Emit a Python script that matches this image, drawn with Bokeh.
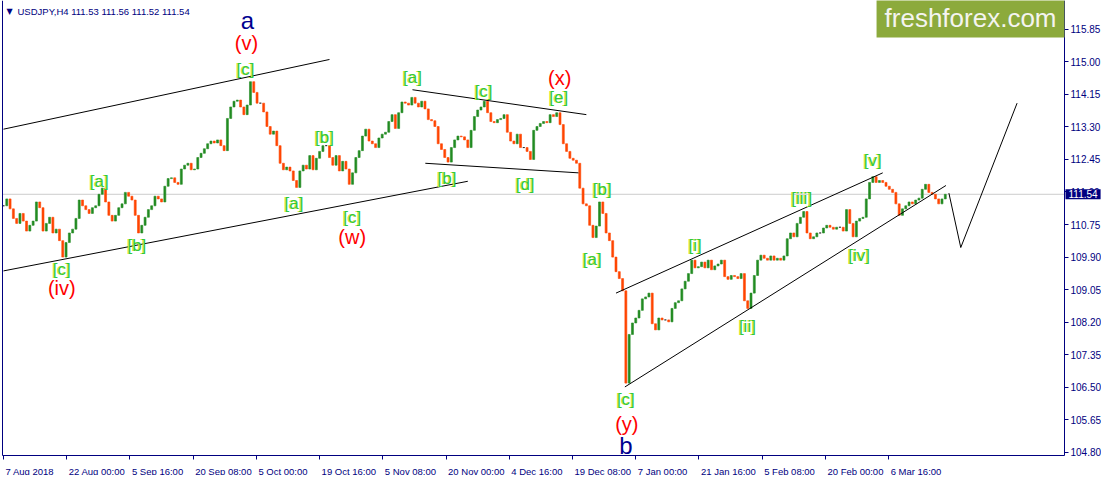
import numpy as np
from bokeh.plotting import figure
from bokeh.models import (Range1d, FixedTicker, Label, PrintfTickFormatter,
                          ColumnDataSource, LinearAxis)
from bokeh.embed import file_html
from bokeh.resources import INLINE
from bokeh.core.properties import value

# ---------------- data ----------------
symbol = "USDJPY,H4"
last_ohlc = [111.53, 111.56, 111.52, 111.54]
bar_step = 10 / 3  # H4 bars represented by each sample

close = [
    111.24, 111.42, 111.16, 110.91, 110.78, 111.04, 110.84, 110.58, 110.73, 110.84,
    111.34, 111.19, 110.58, 110.78, 110.94, 110.53, 110.63, 110.33, 109.90, 110.28,
    110.53, 110.63, 110.91, 111.39, 111.24, 111.14, 111.04, 111.19, 111.24, 111.54,
    111.70, 111.34, 110.99, 110.84, 110.99, 111.19, 111.29, 111.59, 111.49, 111.39,
    110.99, 110.53, 110.73, 110.94, 111.14, 111.24, 111.49, 111.42, 111.34, 111.75,
    111.95, 111.97, 111.85, 111.80, 112.20, 112.30, 112.35, 112.18, 112.20, 112.50,
    112.61, 112.73, 112.86, 112.93, 112.88, 112.96, 112.81, 112.68, 113.52, 113.82,
    113.97, 114.00, 113.82, 113.62, 113.87, 114.48, 114.20, 113.92, 113.92, 113.69,
    113.31, 113.11, 113.19, 112.81, 112.35, 112.18, 112.25, 112.15, 111.90, 111.72,
    112.15, 112.30, 112.20, 112.55, 112.18, 112.48, 112.66, 112.81, 112.81, 112.50,
    112.30, 112.55, 112.15, 112.40, 112.20, 111.80, 112.10, 112.50, 112.68, 113.06,
    113.24, 112.93, 112.86, 112.76, 113.01, 113.11, 113.16, 113.44, 113.62, 113.26,
    113.67, 113.95, 113.92, 113.87, 114.07, 113.92, 113.82, 113.97, 113.77, 113.49,
    113.46, 113.31, 112.86, 112.71, 112.50, 112.38, 112.76, 112.96, 113.06, 113.04,
    112.96, 112.76, 113.21, 113.57, 113.74, 113.82, 113.97, 113.67, 113.44, 113.41,
    113.49, 113.52, 113.62, 113.16, 112.93, 112.86, 113.11, 112.76, 112.76, 112.66,
    112.45, 113.21, 113.31, 113.39, 113.44, 113.41, 113.62, 113.57, 113.67, 113.36,
    112.86, 112.66, 112.48, 112.43, 112.35, 111.70, 111.29, 111.24, 110.73, 110.41,
    110.71, 111.34, 111.04, 110.53, 110.33, 109.90, 109.52, 109.34, 109.02, 106.61,
    107.88, 108.18, 108.31, 108.51, 108.81, 108.86, 108.96, 108.16, 108.00, 108.31,
    108.26, 108.26, 108.21, 108.56, 108.71, 108.76, 109.07, 109.27, 109.47, 109.82,
    109.62, 109.65, 109.77, 109.62, 109.82, 109.57, 109.67, 109.72, 109.82, 109.39,
    109.32, 109.42, 109.39, 109.34, 109.47, 108.76, 108.56, 108.96, 109.42, 109.82,
    109.95, 109.87, 109.82, 109.93, 109.82, 109.87, 109.82, 109.93, 110.38, 110.53,
    110.43, 110.78, 110.94, 111.09, 110.53, 110.38, 110.43, 110.53, 110.53, 110.66,
    110.73, 110.68, 110.63, 110.68, 110.68, 110.58, 111.14, 110.78, 110.43, 110.84,
    110.91, 110.94, 111.42, 111.85, 112.00, 111.85, 111.90, 111.85, 111.75, 111.67,
    111.59, 111.29, 110.99, 111.16, 111.24, 111.34, 111.29, 111.39, 111.44, 111.67,
    111.80, 111.59, 111.54, 111.42, 111.29, 111.42, 111.54,
]

date_ticks = [0, 64, 128, 192, 256, 320, 384, 448, 512, 576, 640, 704, 768, 832, 896]
date_labels = ["7 Aug 2018", "22 Aug 00:00", "5 Sep 16:00", "20 Sep 08:00", "5 Oct 00:00",
               "19 Oct 16:00", "5 Nov 08:00", "20 Nov 00:00", "4 Dec 16:00", "19 Dec 08:00",
               "7 Jan 00:00", "21 Jan 16:00", "5 Feb 08:00", "20 Feb 00:00", "6 Mar 16:00"]
price_ticks = [104.80, 105.65, 106.50, 107.35, 108.20, 109.05, 109.90, 110.75,
               111.60, 112.45, 113.30, 114.15, 115.00, 115.85]

# wave labels (bar position, price, text)
green_x = [245, 97, 135, 59, 294, 325, 353, 414, 449, 486, 528, 562, 606, 596, 630, 700, 753, 808, 866, 880]
green_y = [114.80, 111.87, 110.20, 109.57, 111.29, 113.01, 110.94, 114.60, 111.95, 114.22,
           111.80, 114.07, 111.67, 109.85, 106.18, 110.20, 108.10, 111.42, 109.95, 112.43]
green_t = ["[c]", "[a]", "[b]", "[c]", "[a]", "[b]", "[c]", "[a]", "[b]", "[c]",
           "[d]", "[e]", "[b]", "[a]", "[c]", "[i]", "[ii]", "[iii]", "[iv]", "[v]"]
red_x = [246, 59, 353, 563, 631]
red_y = [115.49, 109.09, 110.43, 114.58, 105.55]
red_t = ["(v)", "(iv)", "(w)", "(x)", "(y)"]
blue_x = [247, 630]
blue_y = [116.07, 104.99]
blue_t = ["a", "b"]

# trend lines (bar position pairs, price pairs)
trend_x = [[0, 330], [0, 470], [414, 590], [427, 582], [620, 890], [629, 954]]
trend_y = [[113.24, 115.06], [109.54, 111.88], [114.27, 113.62], [112.35, 112.10],
           [108.96, 112.10], [106.51, 111.77]]
forecast_x = [957, 969, 1026]
forecast_y = [111.57, 110.15, 113.92]

# chart window (bars / prices)
chart_x = (-1, 1074)
chart_y = (104.72, 116.60)

# ---------------- layout ----------------
W, H = 1101, 475
NAVY = "#000080"
px_left, px_right = 2, 1064          # chart frame in figure pixels
px_bottom = 455                      # chart bottom, pixels from top
sx = (px_right - px_left) / (chart_x[1] - chart_x[0])
sy = px_bottom / (chart_y[1] - chart_y[0])
xr = Range1d(chart_x[0] - px_left / sx, chart_x[0] + (W - px_left) / sx)
yr = Range1d(chart_y[1] - H / sy, chart_y[1])

p = figure(width=W, height=H, output_backend="svg", toolbar_location=None,
           x_range=xr, y_range=yr, x_axis_location=None, y_axis_location=None,
           min_border=0, min_border_left=0, min_border_right=0,
           min_border_top=0, min_border_bottom=0)
p.grid.visible = False
p.outline_line_color = None
p.background_fill_color = "white"
p.border_fill_color = "white"

# price axis on the right edge of the chart
ya = LinearAxis(fixed_location=chart_x[1], bounds=chart_y,
                ticker=FixedTicker(ticks=price_ticks),
                formatter=PrintfTickFormatter(format="%.2f"))
ya.major_label_text_font = "Liberation Sans"
ya.major_label_text_font_size = "10px"
ya.major_label_text_color = NAVY
ya.axis_line_color = NAVY
ya.major_tick_line_color = NAVY
ya.major_tick_out = 4
ya.major_tick_in = 0
ya.minor_tick_line_color = None
ya.major_label_standoff = 2
p.add_layout(ya, "right")

# left border
la = LinearAxis(fixed_location=chart_x[0], bounds=chart_y, ticker=FixedTicker(ticks=[]))
la.axis_line_color = NAVY
la.major_tick_line_color = None
la.minor_tick_line_color = None
la.major_label_text_font_size = "0px"
p.add_layout(la, "left")

# time axis: ticks
xa = LinearAxis(fixed_location=chart_y[0], bounds=chart_x, ticker=FixedTicker(ticks=date_ticks))
xa.major_label_overrides = {t: "" for t in date_ticks}
xa.major_label_text_font_size = "0px"
xa.axis_line_color = NAVY
xa.major_tick_line_color = NAVY
xa.major_tick_out = 4
xa.major_tick_in = 0
xa.minor_tick_line_color = None
p.add_layout(xa, "below")

# time axis: labels start just right of each tick (MT4 style)
em = {" ": .278, ":": .278, "A": .667, "u": .556, "g": .556, "S": .667, "e": .556,
      "p": .556, "O": .778, "c": .5, "t": .278, "N": .722, "o": .556, "v": .5,
      "D": .722, "J": .5, "a": .556, "n": .556, "F": .611, "b": .556, "M": .833, "r": .333}
fs = 9.5
shifted = [round(t + (2 + fs * sum(em.get(ch, .556) for ch in lab) / 2) / sx, 2)
           for t, lab in zip(date_ticks, date_labels)]
xl = LinearAxis(fixed_location=chart_y[0], ticker=FixedTicker(ticks=shifted))
xl.major_label_overrides = {s: lab for s, lab in zip(shifted, date_labels)}
xl.major_label_text_font = "Liberation Sans"
xl.major_label_text_font_size = f"{fs}px"
xl.major_label_text_color = NAVY
xl.axis_line_color = None
xl.major_tick_line_color = None
xl.minor_tick_line_color = None
xl.major_label_standoff = 4
p.add_layout(xl, "below")

# current price line
p.line(list(chart_x), [last_ohlc[3]] * 2, line_color="#CCCCCC", line_width=1, level="underlay")

# candles
c = np.array(close)
o = np.concatenate([[c[0]], c[:-1]])
xs = np.arange(len(c)) * bar_step
cols = np.where(c > o, "#228B22", np.where(c < o, "#FF4500", "#000000"))
src = ColumnDataSource(dict(x=xs, top=np.maximum(o, c), bottom=np.minimum(o, c), color=cols))
p.vbar(x="x", width=2.0, top="top", bottom="bottom", fill_color="color",
       line_color="color", line_width=0.6, source=src)

# trend lines
for tx, ty in zip(trend_x, trend_y):
    p.line(tx, ty, line_color="black", line_width=1)
p.line(forecast_x, forecast_y, line_color="black", line_width=1)

# wave labels
p.text(green_x, green_y, text=green_t, text_align="center", text_baseline="middle",
       text_font=value("Liberation Sans"), text_font_size="17px", text_color="#D8E830",
       x_offset=-1)
p.text(green_x, green_y, text=green_t, text_align="center", text_baseline="middle",
       text_font=value("Liberation Sans"), text_font_size="17px", text_color="#30C840")
p.text(red_x, red_y, text=red_t, text_align="center", text_baseline="middle",
       text_font=value("Liberation Sans"), text_font_size="20px", text_color="#FF0000")
p.text(blue_x, blue_y, text=blue_t, text_align="center", text_baseline="middle",
       text_font=value("Liberation Sans"), text_font_size="24px", text_color="#000090")

# header
p.add_layout(Label(x=6, y=H - 11, x_units="screen", y_units="screen", text="\u25BC",
                   text_font="DejaVu Sans", text_font_size="8px", text_color=NAVY,
                   text_baseline="middle"))
p.add_layout(Label(x=17, y=H - 11, x_units="screen", y_units="screen",
                   text=symbol + "  " + " ".join(f"{v:.2f}" for v in last_ohlc),
                   text_font="Liberation Sans", text_font_size="9.5px", text_color=NAVY,
                   text_baseline="middle"))

# logo
p.add_layout(Label(x=px_right, y=H + 3, x_units="screen", y_units="screen",
                   text="freshforex.com", text_align="right", text_baseline="top",
                   text_font="Liberation Sans", text_font_size="26px", text_color="#F4F4F0",
                   background_fill_color="#8CAA3C",
                   padding=dict(left=8, right=8, top=5, bottom=5)))

# current price tag
p.add_layout(Label(x=px_right + 1, y=last_ohlc[3], x_units="screen", y_units="data",
                   text=f"{last_ohlc[3]:.2f}", text_align="left", text_baseline="middle",
                   text_font="Liberation Sans", text_font_size="10px", text_color="white",
                   background_fill_color=NAVY,
                   padding=dict(left=3, right=3, top=1, bottom=1)))

open("out.html", "w").write(file_html(p, INLINE))
